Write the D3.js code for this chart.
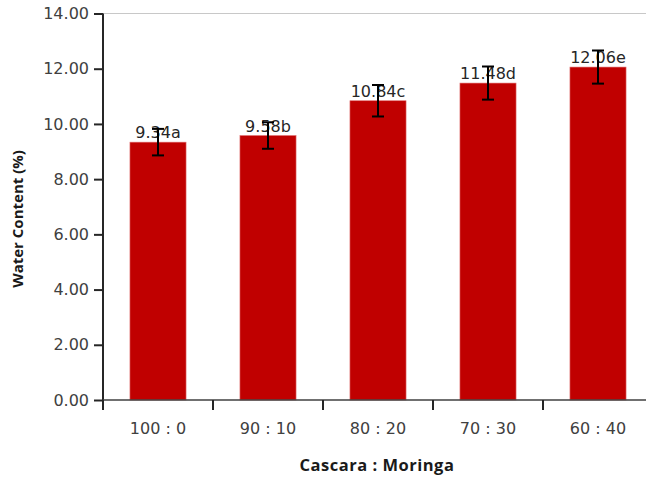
<!DOCTYPE html>
<html>
<head>
<meta charset="utf-8">
<script src="https://cdn.jsdelivr.net/npm/d3@7"></script>
<style>
  body { margin: 0; background: #fff; }
  svg { display: block; }
</style>
</head>
<body>
<div id="chart"></div>
<script>
const categories = ["100 : 0", "90 : 10", "80 : 20", "70 : 30", "60 : 40"];
const values = [9.34, 9.58, 10.84, 11.48, 12.06];
const errors = [0.48, 0.48, 0.57, 0.6, 0.6];
const letters = ["a", "b", "c", "d", "e"];
const yTicks = [0, 2, 4, 6, 8, 10, 12, 14];

const BAR_COLOR = "#c00000";
const TEXT_COLOR = "#404040";
const TICK_FONT = "'DejaVu Sans', sans-serif";
const TITLE_FONT = "'Open Sans', sans-serif";

const width = 646, height = 478;
const margin = { top: 13.5, right: -7, bottom: 78, left: 103 };

const svg = d3.select("#chart").append("svg")
    .attr("width", width)
    .attr("height", height);

const x = d3.scaleBand()
    .domain(categories)
    .range([margin.left, width - margin.right])
    .paddingInner(0.49)
    .paddingOuter(0.245);

const y = d3.scaleLinear()
    .domain([0, 14])
    .range([height - margin.bottom, margin.top]);

// top border line
svg.append("line")
    .attr("x1", margin.left).attr("x2", width)
    .attr("y1", y(14)).attr("y2", y(14))
    .attr("stroke", "#c8c8c8")
    .attr("stroke-width", 1);

// bars
svg.append("g")
    .selectAll("rect")
    .data(values)
    .join("rect")
    .attr("x", (d, i) => x(categories[i]))
    .attr("y", d => y(d))
    .attr("width", x.bandwidth())
    .attr("height", d => y(0) - y(d))
    .attr("fill", BAR_COLOR)
    .attr("stroke", "#e07070")
    .attr("stroke-width", 0.6);

// value labels
svg.append("g")
    .selectAll("text")
    .data(values)
    .join("text")
    .attr("x", (d, i) => x(categories[i]) + x.bandwidth() / 2)
    .attr("y", d => y(d) - 4)
    .attr("text-anchor", "middle")
    .style("font-family", TICK_FONT)
    .style("font-size", "16px")
    .attr("fill", "#262626")
    .text((d, i) => d.toFixed(2) + letters[i]);

// error bars
const err = svg.append("g")
    .attr("stroke", "#000")
    .attr("stroke-width", 2)
    .selectAll("g")
    .data(values)
    .join("g")
    .attr("transform", (d, i) => `translate(${x(categories[i]) + x.bandwidth() / 2},0)`);

err.append("line")
    .attr("y1", (d, i) => y(d + errors[i]))
    .attr("y2", (d, i) => y(d - errors[i]));
err.append("line")
    .attr("x1", -6).attr("x2", 6)
    .attr("y1", (d, i) => y(d + errors[i]))
    .attr("y2", (d, i) => y(d + errors[i]));
err.append("line")
    .attr("x1", -6).attr("x2", 6)
    .attr("y1", (d, i) => y(d - errors[i]))
    .attr("y2", (d, i) => y(d - errors[i]));

// y axis
const yAxis = svg.append("g")
    .attr("transform", `translate(${margin.left},0)`)
    .call(d3.axisLeft(y).tickValues(yTicks).tickFormat(d3.format(".2f")).tickSize(9).tickSizeOuter(0));
yAxis.select(".domain")
    .attr("d", `M0,${y(14)}V${y(0) + 10}`)
    .attr("stroke", "#262626")
    .attr("stroke-width", 2);
yAxis.selectAll(".tick line").attr("stroke", "#262626").attr("stroke-width", 2);
yAxis.selectAll(".tick text")
    .attr("x", -14)
    .style("font-family", TICK_FONT)
    .style("font-size", "16px")
    .attr("fill", TEXT_COLOR);

// x axis
const xAxis = svg.append("g")
    .attr("transform", `translate(0,${y(0)})`);
xAxis.append("line")
    .attr("x1", margin.left).attr("x2", width)
    .attr("stroke", "#404040")
    .attr("stroke-width", 1.5);
xAxis.selectAll(".xtick")
    .data(categories)
    .join("line")
    .attr("class", "xtick")
    .attr("x1", d => x(d) - x.step() * 0.245)
    .attr("x2", d => x(d) - x.step() * 0.245)
    .attr("y1", 0).attr("y2", 10)
    .attr("stroke", "#262626")
    .attr("stroke-width", 2);
xAxis.selectAll(".xlabel")
    .data(categories)
    .join("text")
    .attr("class", "xlabel")
    .attr("x", d => x(d) + x.bandwidth() / 2)
    .attr("y", 34)
    .attr("text-anchor", "middle")
    .style("font-family", TICK_FONT)
    .style("font-size", "16px")
    .attr("fill", TEXT_COLOR)
    .text(d => d);

// axis titles
svg.append("text")
    .attr("x", 377)
    .attr("y", 471)
    .attr("text-anchor", "middle")
    .style("font-family", TITLE_FONT)
    .style("font-size", "16.5px")
    .style("letter-spacing", "0.5px")
    .style("font-weight", "bold")
    .attr("fill", "#1a1a1a")
    .text("Cascara : Moringa");

svg.append("text")
    .attr("transform", "translate(23,219) rotate(-90)")
    .attr("text-anchor", "middle")
    .style("font-family", TITLE_FONT)
    .style("font-size", "15px")
    .style("font-weight", "bold")
    .attr("fill", "#1a1a1a")
    .text("Water Content (%)");
</script>
</body>
</html>
